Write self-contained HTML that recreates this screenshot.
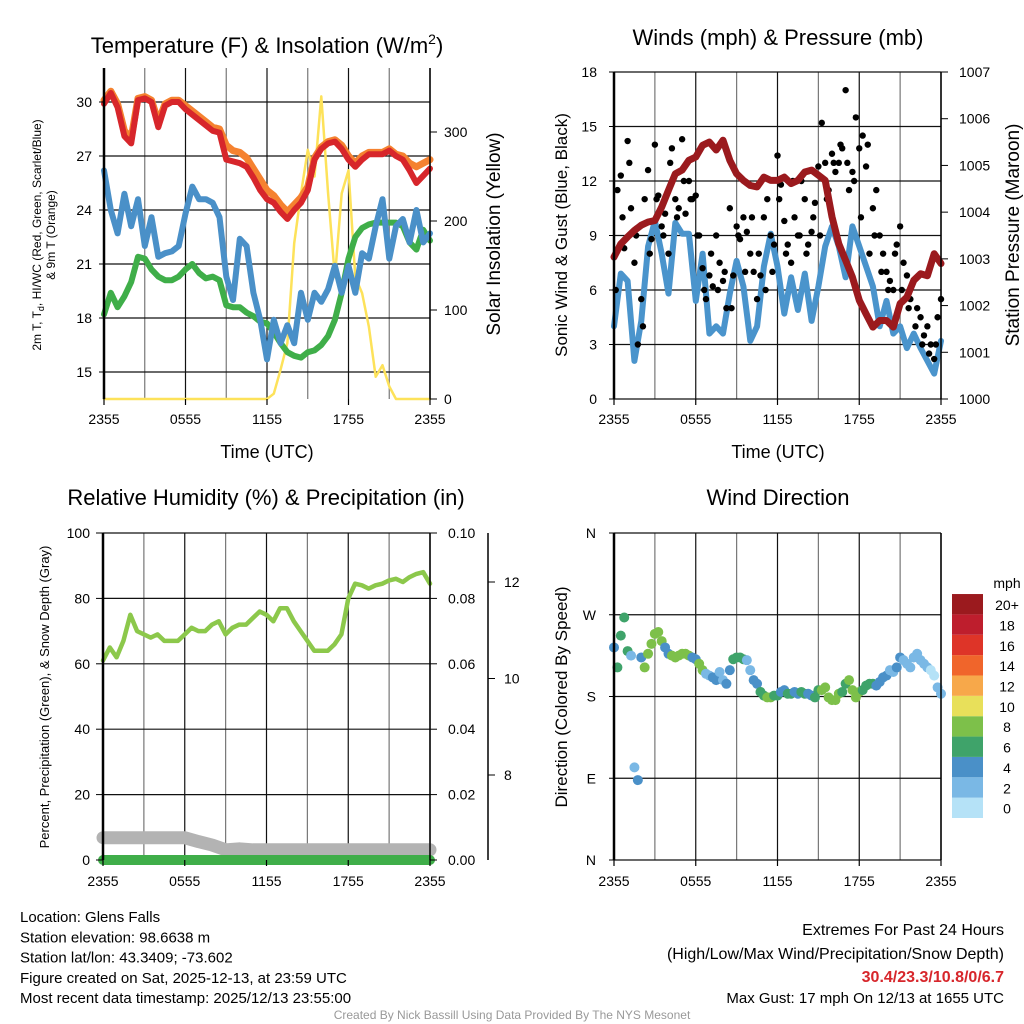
<!DOCTYPE html>
<html><head><meta charset="utf-8"><style>
body{margin:0;background:#fff}
svg{display:block;font-family:"Liberation Sans",sans-serif}
</style></head><body>
<svg id="c" width="1024" height="1024" viewBox="0 0 1024 1024">
</svg>
<script>
// ---------- data (values sampled every 0.5 h from 2355 UTC) ----------
const tempRed = [29.9,30.5,29.7,28.1,27.7,30.1,30.2,30,28.6,29.8,30,30,29.6,29.3,29,28.7,28.4,28.3,26.8,26.7,26.6,26.4,25.8,25.1,24.6,24.4,23.9,23.5,24,24.4,25.1,26.8,27.4,27.7,27.8,27.4,26.8,26.4,26.8,27.1,27.1,27.1,27.3,27,26.8,26.2,25.5,25.9,26.3];
const tempOrange = [30.1,30.6,29.9,28.4,28,30.2,30.3,30.1,28.9,29.9,30.1,30.1,29.8,29.5,29.2,28.9,28.6,28.5,27.6,27.3,27.2,26.9,26.3,25.7,25.1,24.8,24.3,23.9,24.3,24.7,25.3,26.9,27.5,27.8,27.9,27.6,27,26.6,27,27.2,27.2,27.2,27.4,27.1,27,26.6,26.4,26.6,26.8];
const tempGreen = [18.2,19.4,18.6,19.2,20,21.4,21.3,20.7,20.3,20.1,20.1,20.3,20.7,21,20.5,20.2,20.3,20.1,18.7,18.6,18.6,18.3,18.1,17.8,17.7,17.2,16.6,16.1,15.9,15.8,16.1,16.2,16.5,17,17.9,19.4,21.3,22.5,23,23.2,23.3,23.3,23.3,23.3,23.1,22.2,21.8,22.9,22.3];
const tempBlue = [26.2,24,22.7,24.9,23.1,24.6,22,23.6,21.4,21.6,21.7,22,23.8,25.3,24.6,24.6,24.4,23.6,20.3,19,22.4,22,19.4,17.9,15.7,17.9,16.6,17.6,16.6,19.4,17.9,19.4,18.9,19.6,20.9,19.4,20.9,19.4,21.6,21.3,23.1,24.6,21.3,23.1,23.5,22.2,24,22.2,22.7];
const solar = [0,0,0,0,0,0,0,0,0,0,0,0,0,0,0,0,0,0,0,0,0,0,0,0,0,6,33,63,175,231,280,250,340,231,137,231,257,137,119,81,25,38,14,0,0,0,0,0,0];
const windSpeed = [4,6.9,6.5,2.1,4.3,8.4,9.8,8,5.8,9.7,9.1,9.1,5.4,8,3.6,4,3.6,5.8,7.6,6.2,3.2,4,7.3,9.1,7.3,4.7,6.7,4.9,6.9,4.3,6.2,8.4,9.5,8.4,6.7,9.5,8.4,7.3,6.2,4,5.4,3.6,4,2.8,3.6,2.8,2.1,1.4,3.2];
const pressure = [1003.04,1003.32,1003.47,1003.61,1003.72,1003.79,1003.82,1004.11,1004.47,1004.82,1004.9,1005.11,1005.18,1005.43,1005.5,1005.33,1005.54,1005.11,1004.82,1004.68,1004.57,1004.54,1004.75,1004.68,1004.68,1004.75,1004.61,1004.68,1004.86,1004.9,1004.79,1004.68,1003.9,1003.32,1002.97,1002.61,1002.11,1001.82,1001.54,1001.68,1001.68,1001.54,1002.04,1002.18,1002.54,1002.68,1002.64,1003.11,1002.9];
// gusts every 0.25 h
const gustA = [7.8,11.5,12.3,8.3,14.2,10.5,7.5,3,5.5,11,12.6,8.8,14,11.2,9.5,10.2,8,13.8,11,10.5,14.3,10.2,12,11,11.2,9,7.2,5.5,6.8,6.2,9,7.5,6.5,5,10.5,6.8,9.5,8.8,10,9.2,8,7,5.5,6.8,10,11,9,8.5,13.4,11.8,9.8,8.5,7.5,10,9,12,11,8.5,9.2,10.8,12.8,15.2,13,11.5,13.5,12.5,13,13.8,17,11.5,12.5,15.5,13.8,14.5,12.8,8,10.5,11.5,9,8,7,6.5,6,8.5,9.5,7.5,6.8,5.5,6.5,5,4.5,3.5,4,3,2.2,4.5,5.5];
// extra gusts at 0.125 + 0.5k h
const gustB = [6,10,13,9,4,8,11,9,13,10,12,11,9,6,8,6,7,5,9,7,10,8,6,7,11,8,12,9,8,10,9,11,13,14,13,12,10,14,9,7,6,8,6,5,4,3,2.5,3];
const humidity = [61,65,62,67,75,70,69,68,69,67,67,67,69,71,70,70,72,73,69,71,72,72,74,76,75,73,77,77,73,70,67,64,64,64,66,69,80,84.5,84,83,84,84.5,85.5,86,85,86.5,87.5,88,84.5];
const snowDepth = [6.7,6.7,6.7,6.7,6.7,6.7,6.7,6.62,6.55,6.45,6.47,6.45,6.45,6.45,6.45,6.45,6.45,6.45,6.45,6.45,6.45,6.45,6.45,6.45,6.45];
const precip = [0,0,0,0,0,0,0,0,0,0,0,0,0,0,0,0,0,0,0,0,0,0,0,0,0];
// wind direction every 0.25 h (degrees)
const windDir = [234,212,247,267,230,225,102,88,223,212,227,238,249,251,241,234,227,225,223,225,227,227,225,223,221,216,209,205,203,201,198,207,198,194,209,221,223,223,221,220,209,198,194,185,181,179,179,181,181,185,187,183,183,185,183,185,183,183,181,179,187,187,190,179,176,176,183,185,194,198,187,179,185,187,192,194,194,192,196,201,203,209,207,212,223,220,216,212,223,227,220,216,212,209,203,190,183];
const timeTicks = ["2355","0555","1155","1755","2355"];
const speedLevels = ["0","2","4","6","8","10","12","14","16","18","20+"];
const speedColors = ["#b5e2f7","#7ab8e5","#4a90c8","#3fa36a","#7dc04a","#e8e05a","#f7a84a","#f0652b","#de3428","#be1e2d","#9b1a1e"];

const NS="http://www.w3.org/2000/svg";
const svg=document.getElementById('c');
function el(tag,attrs,parent){const e=document.createElementNS(NS,tag);for(const k in attrs)e.setAttribute(k,attrs[k]);(parent||svg).appendChild(e);return e;}
function txt(s,x,y,size,anchor,parent,extra){const t=el('text',Object.assign({x:x,y:y,'font-size':size,'text-anchor':anchor||'middle',fill:'#000'},extra||{}),parent);t.textContent=s;return t;}
function lin(a,b,c,d){return (v)=>c+(v-a)*(d-c)/(b-a);}

function panelFrame(g,x0,x1,y0,y1,hVals,yf){
  for(let k=0;k<=8;k++){const x=x0+k*(x1-x0)/8;
    const l=el('line',{x1:x,x2:x,y1:y0,y2:y1,stroke:k%2?'#777':'#111','stroke-width':1.2},g);
    
    }
  hVals.forEach(v=>{const y=yf(v);
    const l=el('line',{x1:x0,x2:x1,y1:y,y2:y,stroke:'#111','stroke-width':1.2},g);
    
    });
}
function frameBorder(g,x0,x1,y0,y1){
  el('line',{x1:x0,x2:x0,y1:y0,y2:y1,stroke:'#000','stroke-width':2.5},g);
  el('line',{x1:x1,x2:x1,y1:y0,y2:y1,stroke:'#000','stroke-width':1.5},g);
}
function timeAxis(g,x0,x1,y1,labY){
  timeTicks.forEach((s,i)=>{const x=x0+i*(x1-x0)/4;
    el('line',{x1:x,x2:x,y1:y1,y2:y1+6,stroke:'#000','stroke-width':1.2},g);
    const t=txt(s,x,labY,14,'middle',g);
    
    });
}
function drawLine(g,vals,step,xf,yf,color,w,name){
  const d=vals.map((v,i)=>(i?'L':'M')+xf(i*step).toFixed(1)+','+yf(v).toFixed(1)).join('');
  const p=el('path',{d:d,fill:'none',stroke:color,'stroke-width':w,'stroke-linejoin':'round','stroke-linecap':'round'},g);
  
  
  return p;
}

// ================= Panel 1 =================
{
const g=el('g',{});


const x0=104,x1=430,y0=68,y1=399;
const xf=lin(0,24,x0,x1), yT=lin(30,15,102,372), yS=lin(0,300,399,132);
panelFrame(g,x0,x1,y0,y1,[15,18,21,24,27,30],yT);
drawLine(g,solar,0.5,xf,yS,'#fde25a',2.5,'solar-insolation-line');
drawLine(g,tempGreen,0.5,xf,yT,'#3fae49',6,'dewpoint-line');
drawLine(g,tempBlue,0.5,xf,yT,'#4a90c8',6,'wind-chill-line');
drawLine(g,tempOrange,0.5,xf,yT,'#f58230',7,'temp-9m-line');
drawLine(g,tempRed,0.5,xf,yT,'#d7262b',6,'temp-2m-line');
frameBorder(g,x0,x1,y0,y1);
[15,18,21,24,27,30].forEach(v=>{const y=yT(v);el('line',{x1:x0-5,x2:x0,y1:y,y2:y,stroke:'#000'},g);
  const t=txt(String(v),x0-12,y+5,14,'end',g);});
[0,100,200,300].forEach(v=>{const y=yS(v);el('line',{x1:x1,x2:x1+7,y1:y,y2:y,stroke:'#000'},g);
  const t=txt(String(v),x1+14,y+5,14,'start',g);});
timeAxis(g,x0,x1,y1,424);
const t1=el('text',{x:267,y:53,'font-size':22,'text-anchor':'middle'},g);
t1.innerHTML='Temperature (F) &amp; Insolation (W/m<tspan dy="-9" font-size="14">2</tspan><tspan dy="9">)</tspan>';

const a=txt('Time (UTC)',267,458,18,'middle',g);
const l1=el('text',{x:0,y:0,'font-size':12,'text-anchor':'middle',transform:'translate(41,235) rotate(-90)'},g);
l1.innerHTML='2m T, T<tspan dy="3" font-size="9">d</tspan><tspan dy="-3">, HI/WC (Red, Green, Scarlet/Blue)</tspan>';

const l2=txt('& 9m T (Orange)',0,0,12,'middle',g,{transform:'translate(55,235) rotate(-90)'});

const r=txt('Solar Insolation (Yellow)',0,0,19,'middle',g,{transform:'translate(500,234) rotate(-90)'});

}

// ================= Panel 2 =================
{
const g=el('g',{});


const x0=614,x1=941,y0=72,y1=399;
const xf=lin(0,24,x0,x1), yW=lin(0,18,399,72), yP=lin(1000,1007,399,72);
panelFrame(g,x0,x1,y0,y1,[0,3,6,9,12,15,18],yW);
drawLine(g,windSpeed,0.5,xf,yW,'#4a94cc',6,'wind-speed-line');
gustA.forEach((v,i)=>{const c=el('circle',{cx:xf(i*0.25),cy:yW(v),r:3.2,fill:'#000'},g);
  });
gustB.forEach((v,i)=>{const c=el('circle',{cx:xf(0.125+i*0.5),cy:yW(v),r:3.2,fill:'#000'},g);
  });
drawLine(g,pressure,0.5,xf,yP,'#9b1a1e',7,'pressure-line');
frameBorder(g,x0,x1,y0,y1);
[0,3,6,9,12,15,18].forEach(v=>{const y=yW(v);el('line',{x1:x0-5,x2:x0,y1:y,y2:y,stroke:'#000'},g);
  const t=txt(String(v),x0-17,y+5,14,'end',g);});
[1000,1001,1002,1003,1004,1005,1006,1007].forEach(v=>{const y=yP(v);el('line',{x1:x1,x2:x1+7,y1:y,y2:y,stroke:'#000'},g);
  const t=txt(String(v),x1+18,y+5,14,'start',g);});
timeAxis(g,x0,x1,y1,424);
const t1=txt('Winds (mph) & Pressure (mb)',778,45,22,'middle',g);
const a=txt('Time (UTC)',778,458,18,'middle',g);
const l=txt('Sonic Wind & Gust (Blue, Black)',0,0,17,'middle',g,{transform:'translate(567,235) rotate(-90)'});
const r=txt('Station Pressure (Maroon)',0,0,19,'middle',g,{transform:'translate(1019,235) rotate(-90)'});
}

// ================= Panel 3 =================
{
const g=el('g',{});


const x0=103,x1=430,y0=533,y1=860;
const xf=lin(0,24,x0,x1), yH=lin(0,100,860,533), ySn=lin(8,12,775,582), yPr=lin(0,0.1,860,533);
panelFrame(g,x0,x1,y0,y1,[0,20,40,60,80,100],yH);
drawLine(g,snowDepth,1,xf,ySn,'#b3b3b3',13,'snow-depth-line');
drawLine(g,precip,1,xf,yPr,'#3fae49',10,'precipitation-line');
drawLine(g,humidity,0.5,xf,yH,'#8cc84b',4.5,'humidity-line');
frameBorder(g,x0,x1,y0,y1);
[0,20,40,60,80,100].forEach(v=>{const y=yH(v);el('line',{x1:x0-7,x2:x0,y1:y,y2:y,stroke:'#000'},g);
  const t=txt(String(v),x0-13,y+5,14,'end',g);});
[0,0.02,0.04,0.06,0.08,0.1].forEach(v=>{const y=yPr(v);el('line',{x1:x1,x2:x1+7,y1:y,y2:y,stroke:'#000'},g);
  const t=txt(v.toFixed(2),x1+18,y+5,14,'start',g);});
el('line',{x1:488,x2:488,y1:533,y2:860,stroke:'#000','stroke-width':1.5},g);
[8,10,12].forEach(v=>{const y=ySn(v);el('line',{x1:488,x2:495,y1:y,y2:y,stroke:'#000'},g);
  const t=txt(String(v),504,y+5,14,'start',g);});
timeAxis(g,x0,x1,y1,886);
const t1=txt('Relative Humidity (%) & Precipitation (in)',266,505,22,'middle',g);
const l=txt('Percent, Precipitation (Green), & Snow Depth (Gray)',0,0,13,'middle',g,{transform:'translate(49,697) rotate(-90)'});
}

// ================= Panel 4 =================
{
const g=el('g',{});


const x0=614,x1=941,y0=533,y1=860;
const xf=lin(0,24,x0,x1), yD=lin(0,360,860,533);
panelFrame(g,x0,x1,y0,y1,[0,90,180,270,360],yD);
windDir.forEach((v,i)=>{const t=i*0.25;const k=Math.min(48,Math.round(t*2));const s=windSpeed[k];
  const ci=Math.max(0,Math.min(10,Math.floor(s/2)));
  const c=el('circle',{cx:xf(t),cy:yD(v),r:5,fill:speedColors[ci]},g);
  });
frameBorder(g,x0,x1,y0,y1);
["N","E","S","W","N"].forEach((s,i)=>{const y=yD(i*90);el('line',{x1:x0-5,x2:x0,y1:y,y2:y,stroke:'#000'},g);
  const t=txt(s,x0-18,y+5,14,'end',g);});
timeAxis(g,x0,x1,y1,886);
const t1=txt('Wind Direction',778,505,22,'middle',g);
const l=txt('Direction (Colored By Speed)',0,0,17,'middle',g,{transform:'translate(567,697) rotate(-90)'});
const lg=el('g',{},g);


const lt=txt('mph',1007,588,14,'middle',lg);
speedLevels.forEach((s,i)=>{const y=818-(i+1)*20.36;
  const r=el('rect',{x:952,y:y,width:31,height:20.36,fill:speedColors[i]},lg);
  
  const t=txt(s,1007,y+16,14,'middle',lg);});
}

// ================= Footer text =================
{
const g=el('g',{});


["Location: Glens Falls","Station elevation: 98.6638 m","Station lat/lon: 43.3409; -73.602","Figure created on Sat, 2025-12-13, at 23:59 UTC","Most recent data timestamp: 2025/12/13 23:55:00"].forEach((s,i)=>{
  const t=txt(s,20,922+i*20.3,15,'start',g);});
const e=el('g',{});


let t=txt('Extremes For Past 24 Hours',1004,935,16,'end',e);
t=txt('(High/Low/Max Wind/Precipitation/Snow Depth)',1004,959,16,'end',e);
t=txt('30.4/23.3/10.8/0/6.7',1004,982,16,'end',e,{fill:'#d7262b','font-weight':'bold'});
t=txt('Max Gust: 17 mph On 12/13 at 1655 UTC',1004,1003,15,'end',e);
t=txt('Created By Nick Bassill Using Data Provided By The NYS Mesonet',512,1019,12,'middle',svg,{fill:'#999'});
}
</script>
</body></html>
